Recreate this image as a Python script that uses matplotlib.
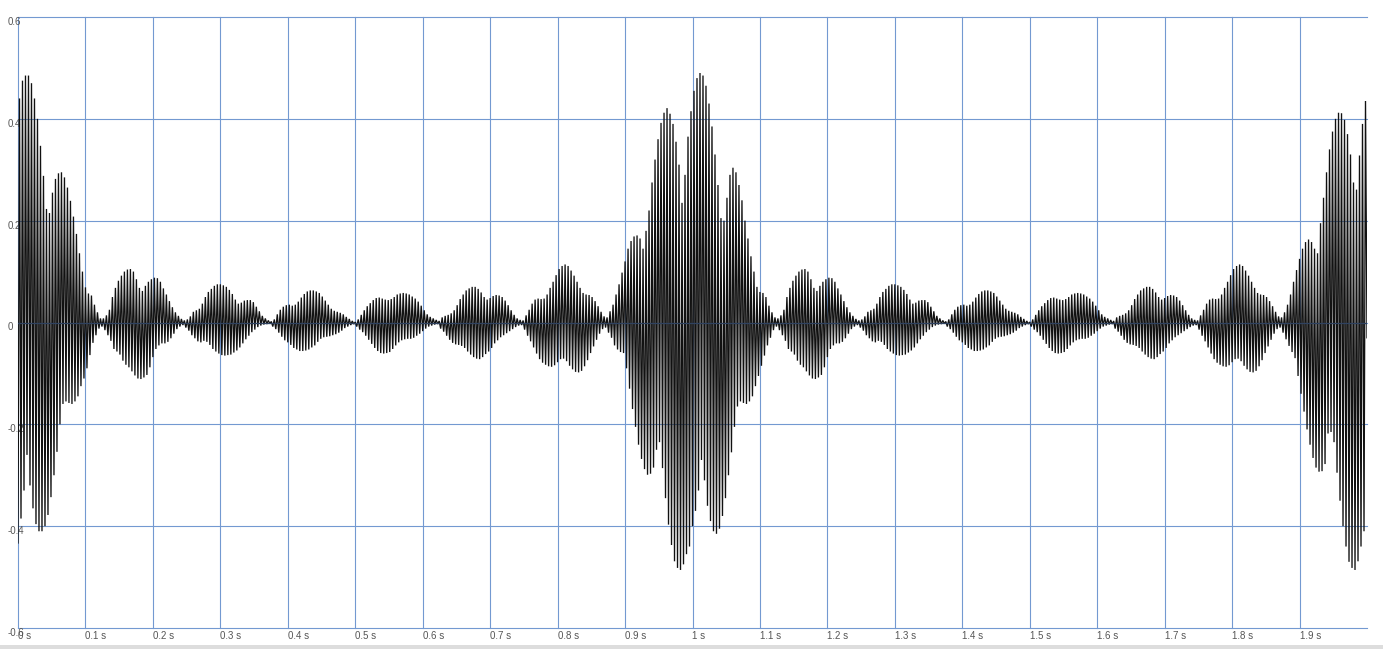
import numpy as np
import matplotlib
matplotlib.use("Agg")
import matplotlib.pyplot as plt
from matplotlib.patches import Rectangle

# ---------------- data (values in thousandths) ----------------
STROKES_PER_SECOND = 225          # one up/down stroke of the waveform per carrier cycle

# upper (peak) value of every stroke, 0 s .. 1 s
upper_lobe_0 = [440, 475, 485, 485, 470, 440, 400, 347, 288, 223, 215, 255, 282, 293, 295, 285, 265, 239,
                208, 174, 136, 100, 69, 57, 53, 35, 20, 8]
upper_side_a = [8, 14, 25, 50, 68, 82, 92, 100, 104, 105, 100, 85, 68, 62, 72, 80, 85, 88, 87, 80, 67, 55,
                42, 30, 20, 13, 7, 4,
                6, 12, 21, 24, 27, 37, 50, 60, 66, 72, 75, 75, 73, 70, 64, 56, 45, 37, 39, 43, 44, 44, 40,
                31, 22, 13, 8, 4, 2,
                6, 16, 25, 31, 34, 35, 33, 35, 41, 49, 56, 61, 63, 63, 61, 58, 51, 43, 35, 27, 23, 21, 19,
                16, 11, 7, 3, 1,
                6, 15, 24, 32, 38, 44, 48, 49, 47, 45, 44, 46, 50, 55, 57, 58, 57, 55, 51, 47, 41, 33, 24,
                16, 11, 8, 5, 3,
                10, 13, 15, 18, 24, 34, 46, 55, 63, 67, 70, 70, 66, 59, 50, 45, 48, 52, 54, 53, 50, 43, 34,
                24, 15, 8, 5, 4,
                14, 25, 37, 45, 47, 46, 47, 55, 68, 80, 93, 105, 111, 114, 111, 102, 92, 80, 68, 58, 55, 54,
                50, 42, 32, 21, 12]
upper_lobe_1 = [10, 22, 35, 55, 75, 98, 120, 145, 160, 169, 171, 165, 145, 180, 220, 275, 320, 360, 392,
                412, 421, 410, 390, 355, 310, 235, 290, 365, 415,
                455, 480, 490, 485, 465, 430, 385, 330, 270, 205, 200, 245, 290, 304, 295, 270, 240, 200,
                165, 130, 100, 70, 60, 58, 50, 33, 20, 10]
# 1 s .. 2 s
upper_side_b = [8, 14, 25, 50, 68, 82, 92, 100, 104, 105, 100, 85, 68, 62, 72, 80, 85, 88, 87, 80, 67, 55,
                42, 30, 20, 13, 7, 4,
                6, 12, 21, 24, 27, 37, 50, 60, 66, 72, 75, 75, 73, 70, 64, 56, 45, 37, 39, 43, 44, 44, 40,
                31, 22, 13, 8, 4, 2,
                6, 16, 25, 31, 34, 35, 33, 35, 41, 49, 56, 61, 63, 63, 61, 58, 51, 43, 35, 27, 23, 21, 19,
                16, 11, 7, 3, 1,
                6, 15, 24, 32, 38, 44, 48, 49, 47, 45, 44, 46, 50, 55, 57, 58, 57, 55, 51, 47, 41, 33, 24,
                16, 11, 8, 5, 3,
                10, 13, 15, 18, 24, 34, 46, 55, 63, 67, 70, 70, 66, 59, 50, 45, 48, 52, 54, 53, 50, 43, 34,
                24, 15, 8, 5, 4,
                14, 25, 37, 45, 47, 46, 47, 55, 68, 80, 93, 105, 111, 114, 111, 102, 92, 80, 68, 58, 55, 54,
                50, 42, 32, 21, 12]
upper_lobe_2 = [10, 20, 35, 55, 80, 103, 125, 145, 158, 163, 158, 145, 136, 195, 245, 295, 340, 375, 400,
                412, 411, 398, 370, 330, 275, 261, 328, 390, 435]

# lower (trough) value of every stroke
lower_lobe_0 = [-433, -385, -330, -260, -320, -365, -396, -410, -410, -400, -378, -343, -300, -254, -200,
                -160, -155, -158, -160, -155, -145, -125, -110, -90, -64, -40, -25, -12]
lower_side_a = [-8, -15, -25, -36, -52, -57, -63, -75, -83, -88, -96, -104, -110, -111, -108, -103, -88,
                -68, -52, -45, -41, -41, -38, -31, -22, -13, -8, -5,
                -10, -16, -25, -31, -37, -39, -36, -38, -44, -52, -57, -61, -64, -65, -64, -63, -59, -55,
                -49, -41, -33, -26, -19, -14, -9, -6, -4, -3, -2,
                -8, -13, -20, -28, -35, -39, -44, -50, -53, -56, -56, -55, -53, -49, -45, -38, -32, -29,
                -28, -27, -25, -23, -20, -16, -11, -8, -5, -3,
                -8, -14, -19, -26, -34, -42, -50, -56, -60, -61, -60, -58, -52, -45, -39, -35, -33, -32,
                -32, -30, -26, -22, -17, -12, -8, -6, -4, -3,
                -12, -18, -26, -34, -40, -43, -44, -46, -50, -57, -63, -68, -71, -72, -68, -62, -57, -50,
                -41, -35, -29, -25, -21, -17, -13, -9, -6, -5,
                -14, -26, -37, -49, -61, -72, -79, -83, -86, -87, -84, -78, -72, -71, -76, -85, -92, -97,
                -98, -95, -86, -74, -60, -47, -34, -22, -13]
lower_lobe_1 = [-10, -20, -30, -45, -53, -58, -60, -90, -130, -170, -205, -240, -268, -288, -299, -297,
                -285, -250, -235, -286, -345, -397, -437, -469, -482, -486, -475, -455, -440,
                -400, -370, -330, -270, -310, -360, -390, -410, -415, -405, -380, -345, -300, -255, -205,
                -165, -155, -158, -160, -155, -145, -125, -105, -85, -65, -45, -30, -15]
lower_side_b = [-8, -15, -25, -36, -52, -57, -63, -75, -83, -88, -96, -104, -110, -111, -108, -103, -88,
                -68, -52, -45, -41, -41, -38, -31, -22, -13, -8, -5,
                -10, -16, -25, -31, -37, -39, -36, -38, -44, -52, -57, -61, -64, -65, -64, -63, -59, -55,
                -49, -41, -33, -26, -19, -14, -9, -6, -4, -3, -2,
                -8, -13, -20, -28, -35, -39, -44, -50, -53, -56, -56, -55, -53, -49, -45, -38, -32, -29,
                -28, -27, -25, -23, -20, -16, -11, -8, -5, -3,
                -8, -14, -19, -26, -34, -42, -50, -56, -60, -61, -60, -58, -52, -45, -39, -35, -33, -32,
                -32, -30, -26, -22, -17, -12, -8, -6, -4, -3,
                -12, -18, -26, -34, -40, -43, -44, -46, -50, -57, -63, -68, -71, -72, -68, -62, -57, -50,
                -41, -35, -29, -25, -21, -17, -13, -9, -6, -5,
                -14, -26, -37, -49, -61, -72, -79, -83, -86, -87, -84, -78, -72, -71, -76, -85, -92, -97,
                -98, -95, -86, -74, -60, -47, -34, -22, -13]
lower_lobe_2 = [-10, -20, -33, -46, -58, -70, -105, -140, -175, -210, -240, -266, -285, -293, -292, -278,
                -218, -215, -235, -295, -350, -400, -440, -470, -482, -486, -469, -440, -410, -30]

x_ticks = [0.0, 0.1, 0.2, 0.3, 0.4, 0.5, 0.6, 0.7, 0.8, 0.9, 1.0, 1.1, 1.2, 1.3, 1.4, 1.5, 1.6, 1.7, 1.8, 1.9]
x_labels = ["0 s", "0.1 s", "0.2 s", "0.3 s", "0.4 s", "0.5 s", "0.6 s", "0.7 s", "0.8 s", "0.9 s",
            "1 s", "1.1 s", "1.2 s", "1.3 s", "1.4 s", "1.5 s", "1.6 s", "1.7 s", "1.8 s", "1.9 s"]
y_ticks = [-0.6, -0.4, -0.2, 0.0, 0.2, 0.4, 0.6]
y_labels = ["-0.6", "-0.4", "-0.2", "0", "0.2", "0.4", "0.6"]
x_range = (0.0, 2.0)

# ---------------- build the waveform (trough, peak, trough, peak, ...) ----------------
upper = np.array(upper_lobe_0 + upper_side_a + upper_lobe_1 + upper_side_b + upper_lobe_2) / 1000.0
lower = np.array(lower_lobe_0 + lower_side_a + lower_lobe_1 + lower_side_b + lower_lobe_2) / 1000.0
period = 1.0 / STROKES_PER_SECOND
n = len(upper)
t = np.empty(2 * n + 1)
v = np.empty(2 * n + 1)
t[0::2] = np.arange(n + 1) * period
t[1::2] = np.arange(n) * period + period / 2
v[0::2] = lower[: n + 1]
v[1::2] = upper

# ---------------- figure ----------------
W, H, DPI = 1383, 649, 100
fig = plt.figure(figsize=(W / DPI, H / DPI), dpi=DPI)
plt.rcParams['font.family'] = ['Liberation Sans', 'DejaVu Sans']
ax = fig.add_axes([18 / W, 1 - 628 / H, (1367 - 18) / W, (628 - 17) / H])
ax.set_xlim(*x_range)
ax.set_ylim(-0.6, 0.6)
for s in ax.spines.values():
    s.set_visible(False)

ax.set_xticks(x_ticks, x_labels)
ax.set_yticks(y_ticks, y_labels)
ax.tick_params(axis='both', length=0, labelsize=7, labelcolor='#555555')
ax.tick_params(axis='x', pad=2)
ax.tick_params(axis='y', pad=7.3)
for lab in ax.get_xticklabels():
    lab.set_horizontalalignment('left')
for lab in ax.get_yticklabels():
    lab.set_horizontalalignment('left')
    lab.set_verticalalignment('top')

ax.grid(True, color='#7399d1', linewidth=0.8, zorder=1)
ax.set_axisbelow(True)
for gl in ax.get_xgridlines() + ax.get_ygridlines():
    gl.set_clip_on(False)

ax.plot(t, v, color='#111111', linewidth=0.95, zorder=3, solid_joinstyle='miter')
ax.axhline(0, color='#2f4260', linewidth=0.9, zorder=4)

fig.patches.append(Rectangle((0, 0), 1, 4 / H, transform=fig.transFigure,
                             facecolor='#dddddd', edgecolor='none'))

fig.savefig("out.png", dpi=DPI)
